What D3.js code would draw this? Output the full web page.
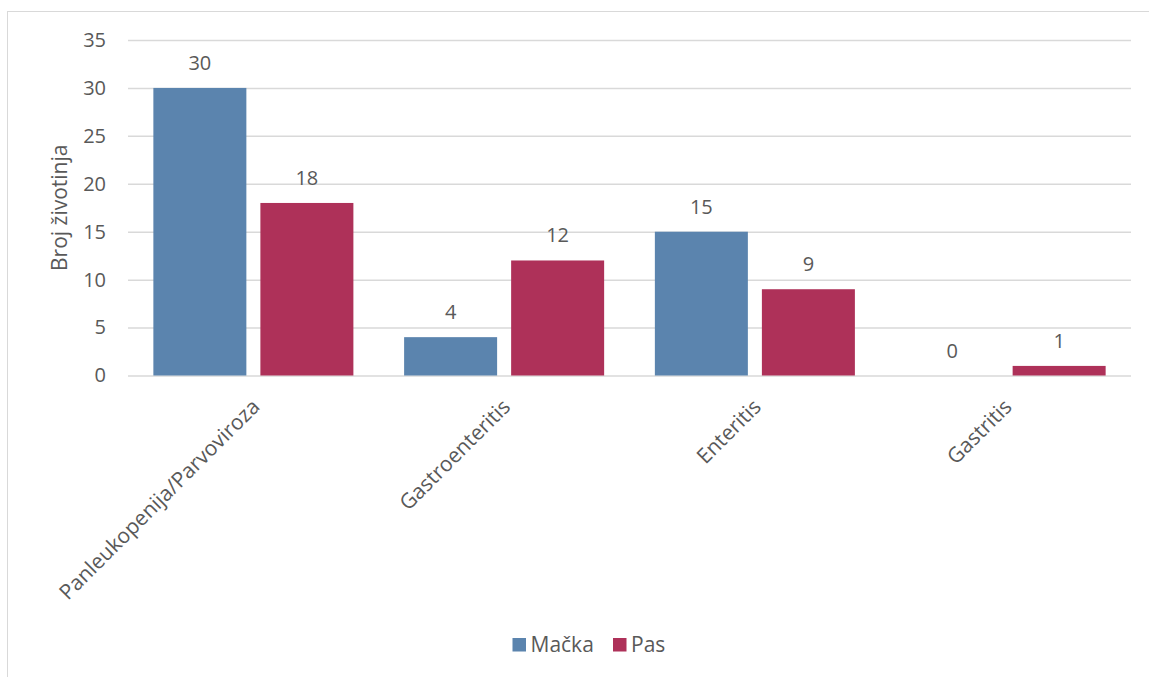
<!DOCTYPE html>
<html><head><meta charset="utf-8">
<script src="https://cdn.jsdelivr.net/npm/d3@7"></script>
<style>body{margin:0;background:#fff}svg{display:block}text{font-family:"Open Sans",sans-serif;fill:#595959}</style>
</head><body><svg id="c" width="1149" height="677"></svg>
<script>
const categories = ["Panleukopenija/Parvoviroza","Gastroenteritis","Enteritis","Gastritis"];
const seriesNames = ["Mačka","Pas"];
const macka = [30,4,15,0];
const pas = [18,12,9,1];
const yTicks = [0,5,10,15,20,25,30,35];
const colors = ["#5B84AE","#AE3159"];
const yTitle = "Broj životinja";

const svg = d3.select("#c");
svg.append("rect").attr("x",7.5).attr("y",11.5).attr("width",1160).attr("height",700)
  .attr("fill","#fff").attr("stroke","#d9d9d9").attr("stroke-width",1);

const L=128,R=1131,T=40,B=375.5;
const x = d3.scaleBand().domain(categories).range([L,R]).paddingInner(0).paddingOuter(0);
const x1 = d3.scaleBand().domain(seriesNames).range([0,x.bandwidth()]).paddingInner(0.131).paddingOuter(0.237);
const y = d3.scaleLinear().domain([0,35]).range([B,T]);

const yAxis = d3.axisLeft(y).tickValues(yTicks).tickSize(-(R-L)).tickPadding(22);
const gy = svg.append("g").attr("transform",`translate(${L},0)`).call(yAxis);
gy.select(".domain").remove();
gy.selectAll(".tick line").attr("stroke","#d9d9d9").attr("stroke-width",1.5);
gy.selectAll(".tick text").style("font-size","20px").style("font-family","'Open Sans',sans-serif").attr("fill","#595959");

const data = categories.map((c,i)=>({c, vals:[macka[i],pas[i]]}));
const g = svg.append("g");
data.forEach(d=>{
  d.vals.forEach((v,j)=>{
    const xx = x(d.c)+x1(seriesNames[j]);
    g.append("rect").attr("x",xx).attr("y",y(v)).attr("width",x1.bandwidth()).attr("height",B-y(v))
      .attr("fill",colors[j]);
    g.append("text").attr("x",xx+x1.bandwidth()/2).attr("y",y(v)-18).attr("text-anchor","middle")
      .style("font-size","20px").text(v);
  });
});

// x labels
const gx = svg.append("g");
categories.forEach(c=>{
  const cx = x(c)+x.bandwidth()/2-3;
  gx.append("text").attr("transform",`translate(${cx},${B+22}) rotate(-45)`)
    .attr("text-anchor","end").attr("dy","0.71em").style("font-size","21px").text(c);
});

svg.append("text").attr("transform",`translate(67,${(T+B)/2}) rotate(-90)`).attr("text-anchor","middle")
  .style("font-size","21px").text(yTitle);

// legend
const leg = svg.append("g");
const legX = [512.5, 613];
seriesNames.forEach((s,j)=>{
  leg.append("rect").attr("x",legX[j]).attr("y",638).attr("width",13.5).attr("height",13.5).attr("fill",colors[j]);
  leg.append("text").attr("x",legX[j]+18).attr("y",651.5).style("font-size","21px").text(s);
});
</script></body></html>
